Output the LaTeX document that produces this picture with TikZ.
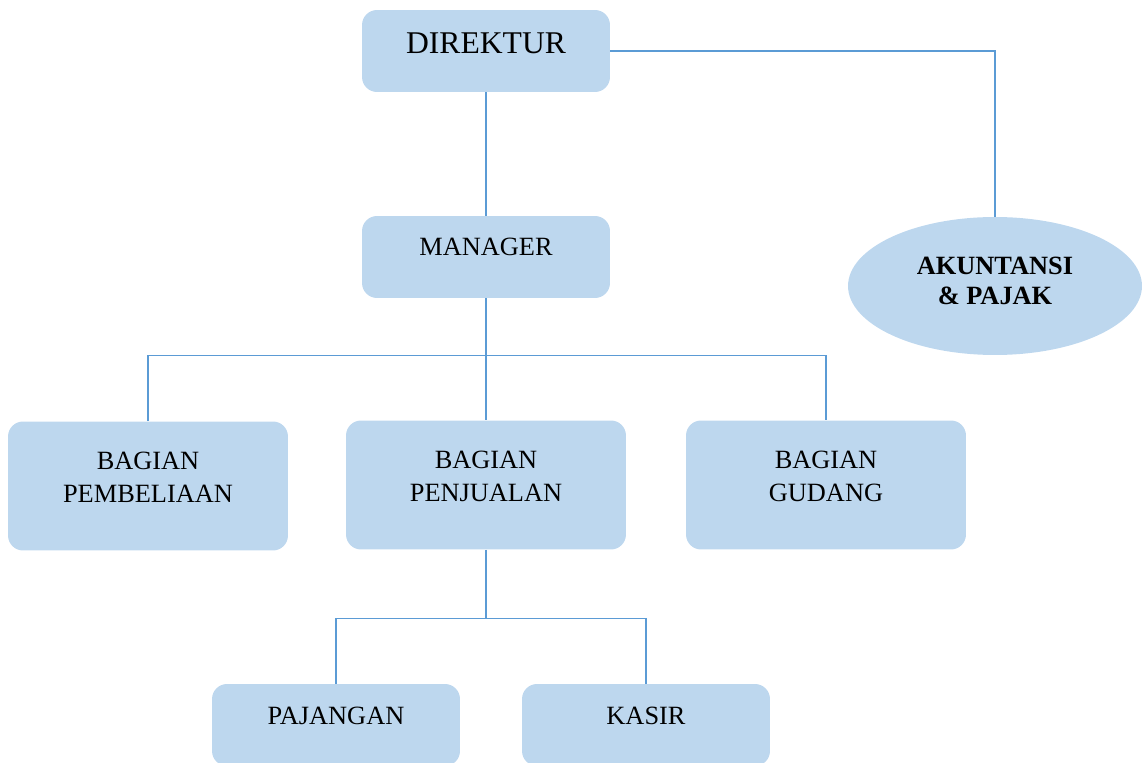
\documentclass[tikz,border=0pt]{standalone}
\usepackage{fontspec}
\setmainfont{Liberation Serif}
\usepackage{tikz}
\usetikzlibrary{shapes,positioning}
\definecolor{isian}{HTML}{BDD7EE}
\definecolor{garisbiru}{HTML}{5B9BD5}
\tikzset{
    kotak/.style={rectangle,rounded corners=0.3cm,fill=isian,draw=none,align=center,
        minimum width=4.96cm,minimum height=1.64cm,node font=\fontsize{15}{18.5}\selectfont},
    kotaklebar/.style={kotak,minimum width=5.6cm,minimum height=2.58cm},
    elips/.style={ellipse,fill=isian,draw=none,align=center,inner sep=0pt,
        minimum width=5.88cm,minimum height=2.76cm,node font=\bfseries\fontsize{15}{17}\selectfont},
    naik/.style={text height=9.9pt,text depth=#1},
    naikdua/.style={text height=28.4pt,text depth=#1},
    garis/.style={draw=garisbiru,line width=0.6pt},
}

\begin{document}
\begin{tikzpicture}[x=0.02cm,y=-0.02cm]
    \useasboundingbox (0,0) rectangle (1147,763);
    \node [kotak,naik=0.24cm,node font=\fontsize{18}{21}\selectfont] (direktur) at (486,51) {DIREKTUR};
    \node [kotak,naik=0.4cm] (manager) at (486,257) {MANAGER};
    \node [elips,text height=26.9pt,text depth=0.2cm] (akuntansi) at (995,286) {AKUNTANSI\\\& PAJAK};
    \node [kotaklebar,naikdua=0.34cm] (pembelian) at (148,486) {BAGIAN\\PEMBELIAAN};
    \node [kotaklebar,naikdua=0.34cm] (penjualan) at (486,485) {BAGIAN\\PENJUALAN};
    \node [kotaklebar,naikdua=0.34cm] (gudang) at (826,485) {BAGIAN\\GUDANG};
    \node [kotak,naik=0.36cm] (pajangan) at (336,725) {PAJANGAN};
    \node [kotak,naik=0.36cm] (kasir) at (646,725) {KASIR};
    \path (manager.south) ++(0,57) coordinate (cabang1);
    \path (penjualan.south) ++(0,69) coordinate (cabang2);
    \path [garis] (direktur) -- (manager);
    \path [garis] (direktur.east) -| (akuntansi.north);
    \path [garis] (manager.south) -- (penjualan.north);
    \path [garis] (pembelian.north) |- (cabang1) -| (gudang.north);
    \path [garis] (penjualan.south) -- (cabang2);
    \path [garis] (pajangan.north) |- (cabang2) -| (kasir.north);
\end{tikzpicture}
\end{document}
